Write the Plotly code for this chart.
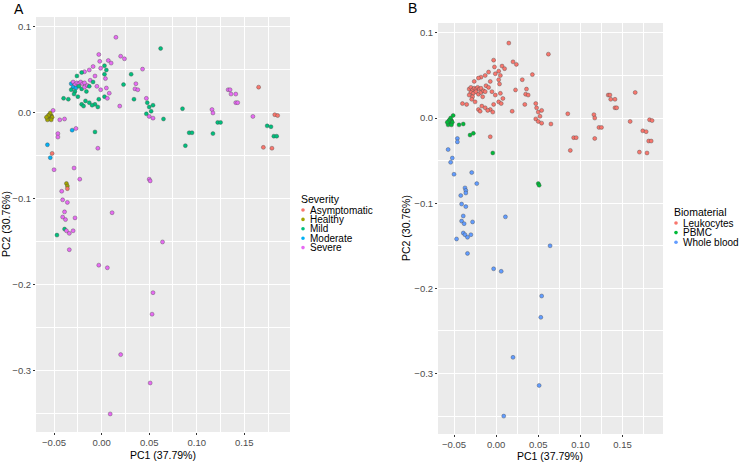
import plotly.graph_objects as go

W, H = 748, 463

# PCA scores, grouped by biomaterial
# severity codes: A=Asymptomatic, H=Healthy, M=Mild, O=Moderate, S=Severe
leuko_pc1 = [0.015, 0.062, 0.020, 0.024, -0.003, -0.002, 0.007, 0.010, 0.003, -0.009,
             -0.001, 0.005, -0.013, -0.018, -0.021, -0.026, 0.043, 0.031, -0.007, 0.003,
             0.004, 0.036, 0.035, 0.038, 0.023, -0.032, -0.030, -0.028, -0.026, -0.024,
             -0.022, -0.020, -0.018, -0.030, -0.027, -0.024, -0.021, -0.018, -0.015, -0.032,
             -0.028, -0.012, -0.009, -0.005, -0.001, -0.013, -0.016, 0.005, 0.008, 0.003,
             0.006, -0.040, -0.035, -0.025, -0.017, -0.021, -0.013, -0.007, -0.004, -0.003,
             -0.019, -0.010, 0.019, 0.034, -0.029, 0.047, 0.048, 0.050, 0.054, 0.052,
             0.047, 0.050, 0.054, 0.065, 0.085, 0.092, 0.095, 0.088, 0.133, 0.135,
             0.136, 0.141, 0.141, 0.143, 0.165, 0.116, 0.117, 0.122, 0.125, 0.117,
             0.159, 0.182, 0.185, 0.174, 0.178, 0.181, 0.184, 0.170, 0.179, -0.007]
leuko_pc2 = [0.088, 0.075, 0.066, 0.063, 0.068, 0.060, 0.061, 0.058, 0.055, 0.054,
             0.052, 0.050, 0.050, 0.048, 0.047, 0.043, 0.051, 0.045, 0.043, 0.045,
             0.040, 0.034, 0.028, 0.027, 0.033, 0.034, 0.036, 0.033, 0.035, 0.034,
             0.036, 0.034, 0.035, 0.030, 0.029, 0.031, 0.028, 0.030, 0.032, 0.027,
             0.025, 0.038, 0.036, 0.031, 0.027, 0.031, 0.025, 0.029, 0.023, 0.019,
             0.017, 0.017, 0.016, 0.019, 0.014, 0.010, 0.012, 0.010, 0.007, 0.016,
             0.008, 0.009, 0.008, 0.016, 0.022, 0.017, 0.012, 0.007, 0.009, 0.002,
             -0.001, -0.004, -0.006, -0.007, 0.005, -0.023, -0.023, -0.038, 0.027, 0.027,
             0.022, 0.022, 0.012, 0.012, 0.030, 0.004, 0.000, -0.011, -0.011, -0.024,
             -0.004, -0.002, -0.003, -0.015, -0.016, -0.027, -0.027, -0.040, -0.041, -0.022]
leuko_sev = ["S", "M", "S", "S", "S", "S", "S", "S", "M", "S",
             "S", "M", "S", "S", "M", "M", "S", "M", "S", "M",
             "S", "S", "S", "S", "M", "O", "S", "S", "S", "S",
             "S", "S", "S", "O", "O", "M", "M", "S", "S", "M",
             "M", "S", "M", "S", "S", "M", "M", "S", "S", "M",
             "S", "M", "M", "M", "M", "M", "M", "M", "M", "M",
             "M", "M", "S", "M", "M", "S", "M", "M", "M", "M",
             "M", "S", "S", "M", "M", "M", "M", "M", "S", "S",
             "S", "S", "S", "S", "A", "S", "S", "M", "M", "M",
             "S", "A", "A", "M", "M", "M", "M", "A", "A", "M"]

pbmc_pc1 = [-0.056, -0.055, -0.054, -0.053, -0.057, -0.055, -0.052, -0.054, -0.056, -0.053,
            -0.058, -0.051, -0.044, -0.039, -0.031, -0.027, -0.004, 0.050, 0.051]
pbmc_pc2 = [-0.006, -0.004, -0.007, -0.003, -0.008, -0.002, -0.005, 0.000, -0.003, -0.008,
            -0.005, 0.003, -0.008, -0.007, -0.020, -0.018, -0.041, -0.077, -0.079]
pbmc_sev = ["H", "H", "H", "H", "H", "H", "H", "H", "H", "H",
            "H", "S", "S", "S", "O", "S", "S", "S", "S"]

blood_pc1 = [-0.046, -0.046, -0.057, -0.052, -0.054, -0.050, -0.029, -0.023, -0.037, -0.036,
             -0.036, -0.042, -0.041, -0.036, 0.011, -0.039, -0.041, -0.038, -0.028, -0.039,
             -0.037, -0.030, -0.034, -0.047, -0.034, -0.003, 0.006, 0.064, 0.054, 0.053,
             0.020, 0.051, 0.009]
blood_pc2 = [-0.024, -0.028, -0.037, -0.047, -0.052, -0.066, -0.064, -0.077, -0.082, -0.085,
             -0.088, -0.091, -0.101, -0.104, -0.116, -0.115, -0.121, -0.124, -0.122, -0.135,
             -0.137, -0.137, -0.140, -0.142, -0.159, -0.177, -0.180, -0.150, -0.209, -0.234,
             -0.281, -0.314, -0.350]
blood_sev = ["S", "S", "O", "A", "O", "S", "S", "S", "H", "H",
             "A", "S", "S", "S", "S", "S", "S", "S", "S", "M",
             "S", "S", "S", "M", "S", "S", "S", "S", "S", "S",
             "S", "S", "S"]

severity_codes = ["A", "H", "M", "O", "S"]
severity_levels = ["Asymptomatic", "Healthy", "Mild", "Moderate", "Severe"]
severity_colors = ["#F8766D", "#A3A500", "#00BF7D", "#00B0F6", "#E76BF3"]
biomaterial_levels = ["Leukocytes", "PBMC", "Whole blood"]
biomaterial_colors = ["#F8766D", "#00BA38", "#619CFF"]

x_ticks = [-0.05, 0.0, 0.05, 0.10, 0.15]
x_tick_text = ["\u22120.05", "0.00", "0.05", "0.10", "0.15"]
y_ticks = [-0.3, -0.2, -0.1, 0.0, 0.1]
y_tick_text = ["\u22120.3", "\u22120.2", "\u22120.1", "0.0", "0.1"]

pc1 = blood_pc1 + pbmc_pc1 + leuko_pc1
pc2 = blood_pc2 + pbmc_pc2 + leuko_pc2
sev = blood_sev + pbmc_sev + leuko_sev
bio = (["Whole blood"] * len(blood_pc1) + ["PBMC"] * len(pbmc_pc1)
       + ["Leukocytes"] * len(leuko_pc1))

sev_col = dict(zip(severity_codes, severity_colors))
bio_col = dict(zip(biomaterial_levels, biomaterial_colors))

FONT = "Liberation Sans, Arial, sans-serif"
POINT_EDGE = {"width": 0.7, "color": "rgba(70,70,70,0.55)"}


def px_x(px):
    return px / W


def px_y(py):
    return 1 - py / H


fig = go.Figure()
fig.add_trace(go.Scatter(
    x=pc1, y=pc2, mode="markers", xaxis="x", yaxis="y",
    marker={"size": 4, "color": [sev_col[s] for s in sev], "line": POINT_EDGE},
    showlegend=False, hoverinfo="skip",
))
fig.add_trace(go.Scatter(
    x=pc1, y=pc2, mode="markers", xaxis="x2", yaxis="y2",
    marker={"size": 4, "color": [bio_col[b] for b in bio], "line": POINT_EDGE},
    showlegend=False, hoverinfo="skip",
))

axis_common = dict(
    showgrid=True, gridcolor="white", gridwidth=1.1,
    zeroline=False, showline=False,
    ticks="outside", ticklen=2, tickwidth=1, tickcolor="#333333",
    tickfont={"size": 9.5, "color": "#4D4D4D", "family": FONT},
)
x_minor = {"showgrid": True, "gridcolor": "white", "gridwidth": 0.5,
           "tickvals": [-0.025, 0.025, 0.075, 0.125, 0.175]}
y_minor = {"showgrid": True, "gridcolor": "white", "gridwidth": 0.5,
           "tickvals": [-0.35, -0.25, -0.15, -0.05, 0.05]}
x_range = [-0.069, 0.198]
y_range = [-0.371, 0.1116]

fig.update_layout(
    width=W, height=H,
    margin={"l": 0, "r": 0, "t": 0, "b": 0},
    paper_bgcolor="white", plot_bgcolor="#EBEBEB",
    font={"family": FONT, "color": "black"},
    xaxis=dict(axis_common, domain=[px_x(36), px_x(290)], range=x_range,
               tickvals=x_ticks, ticktext=x_tick_text, anchor="y", minor=x_minor),
    yaxis=dict(axis_common, domain=[px_y(432), px_y(17)], range=y_range,
               tickvals=y_ticks, ticktext=y_tick_text, anchor="x", minor=y_minor),
    xaxis2=dict(axis_common, domain=[px_x(438), px_x(663)], range=x_range,
                tickvals=x_ticks, ticktext=x_tick_text, anchor="y2", minor=x_minor),
    yaxis2=dict(axis_common, domain=[px_y(434), px_y(23)], range=y_range,
                tickvals=y_ticks, ticktext=y_tick_text, anchor="x2", minor=y_minor),
)

ann = []
shapes = []


def text(px, py, s, size, xanchor="center", angle=0):
    ann.append(dict(x=px_x(px), y=px_y(py), xref="paper", yref="paper", text=s,
                    showarrow=False, xanchor=xanchor, yanchor="middle", textangle=angle,
                    font={"size": size, "family": FONT, "color": "black"}))


# panel tags and axis titles
text(19, 9, "A", 14)
text(412, 8, "B", 14)
text(163, 455, "PC1 (37.79%)", 10.5)
text(550, 456, "PC1 (37.79%)", 10.5)
text(6, 224, "PC2 (30.76%)", 10.5, angle=-90)
text(406, 228, "PC2 (30.76%)", 10.5, angle=-90)


def legend(x0, y0, title, labels, colors, step):
    text(x0, y0, title, 10.5, xanchor="left")
    for i, (lab, col) in enumerate(zip(labels, colors)):
        yy = y0 + 11 + i * step
        text(x0 + 9, yy, lab, 10, xanchor="left")
        r = 1.8
        shapes.append(dict(type="circle", xref="paper", yref="paper",
                           x0=px_x(x0 + 4 - r), x1=px_x(x0 + 4 + r),
                           y0=px_y(yy + r), y1=px_y(yy - r),
                           fillcolor=col, line={"width": 0}))


legend(299, 199, "Severity", severity_levels, severity_colors, 9.4)
legend(672, 212, "Biomaterial", biomaterial_levels, biomaterial_colors, 9.6)

fig.update_layout(annotations=ann, shapes=shapes)
# the page body has a default 8px margin; drop it so the figure sits at the corner
fig.write_html("out.html", config={"displayModeBar": False},
               post_script="document.body.style.margin = '0';")
